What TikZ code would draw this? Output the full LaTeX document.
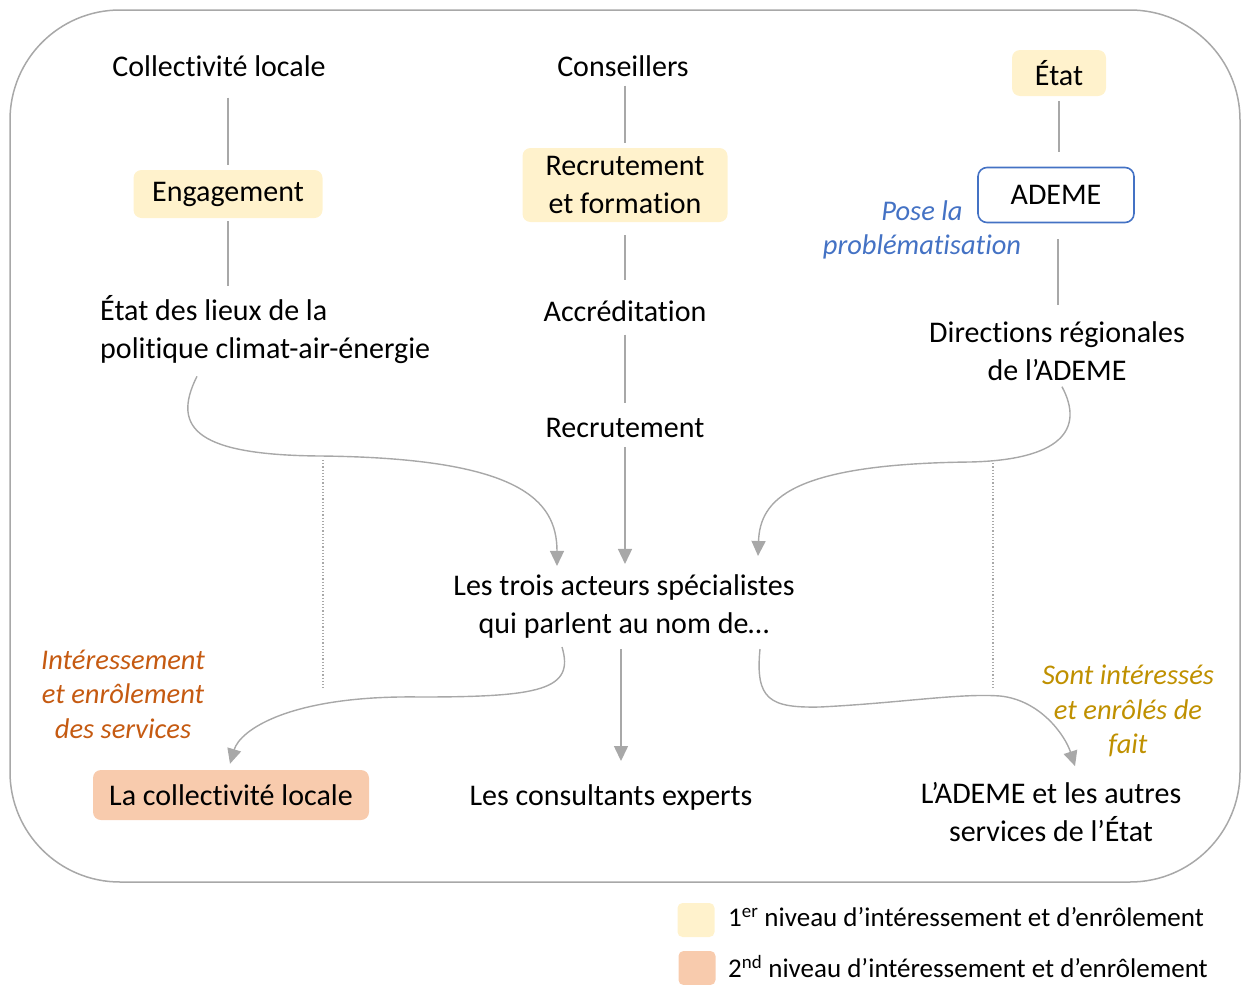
\documentclass[tikz,border=0pt]{standalone}
\usepackage{fontspec}
\setmainfont{Carlito}[RawFeature={-liga;-clig;-dlig;-calt;-rlig}]
\usetikzlibrary{arrows.meta,positioning,calc}
\definecolor{jaune}{RGB}{255,242,204}
\definecolor{saumon}{RGB}{248,203,173}
\definecolor{bleu}{RGB}{68,114,196}
\definecolor{rouille}{RGB}{197,90,17}
\definecolor{ocre}{RGB}{191,144,0}
\definecolor{trait}{RGB}{168,168,168}
\tikzset{
  txt/.style     ={align=center,inner sep=0pt,font=\fontsize{30}{38}\selectfont},
  boite/.style   ={txt,rounded corners=8pt,fill=jaune},
  note/.style    ={align=center,inner sep=0pt,font=\fontsize{28.5}{34.5}\selectfont\itshape},
  leg/.style     ={anchor=west,inner sep=0pt,font=\fontsize{27}{30}\selectfont},
  pastille/.style={rounded corners=5pt,minimum width=37pt,minimum height=34pt,inner sep=0pt},
  lien/.style    ={trait,line width=1.4pt},
  ar/.style      ={lien,-{Triangle[length=15pt,width=14pt]}},
  pointille/.style={trait,line width=1.2pt,dotted},
}

\begin{document}
\begin{tikzpicture}[x=1pt,y=-1pt]
  \useasboundingbox (0,0) rectangle (1242,985);
  \draw[trait,line width=1.5pt,rounded corners=110pt] (10,10) rectangle (1240,882);

  % colonne collectivite
  \node[txt] (coll) at (219,66) {Collectivité locale};
  \node[boite,minimum width=189pt,minimum height=48pt] (eng) at (228,194) {Engagement};
  \node[txt,align=left,anchor=west] (lieux) at (100,330) {État des lieux de la\\politique climat-air-énergie};

  % colonne conseillers
  \node[txt] (cons) at (623,66) {Conseillers};
  \node[boite,minimum width=205pt,minimum height=74pt] (recf) at (625,185) {Recrutement\\et formation};
  \node[txt] (accr) at (625,311) {Accréditation};
  \node[txt] (recr) at (625,428) {Recrutement};

  % colonne etat
  \node[boite,minimum width=94pt,minimum height=46pt] (etat) at (1059,73) {État};
  \node[txt,draw=bleu,line width=1.6pt,rounded corners=9pt,minimum width=156pt,minimum height=55pt] (ademe) at (1056,195) {ADEME};
  \node[note,text=bleu] (pose) at (922,230) {Pose la\\problématisation};
  \node[txt] (dir) at (1057,351) {Directions régionales\\de l’ADEME};

  % centre et bas
  \node[txt] (trois) at (624,606) {Les trois acteurs spécialistes\\qui parlent au nom de…};
  \node[boite,fill=saumon,minimum width=276pt,minimum height=50pt] (lacoll) at (231,795) {La collectivité locale};
  \node[txt] (consult) at (611,797) {Les consultants experts};
  \node[txt] (etatserv) at (1051,812) {L’ADEME et les autres\\services de l’État};
  \node[note,text=rouille] (inter) at (123,694) {Intéressement\\et enrôlement\\des services};
  \node[note,text=ocre] (sont) at (1128,711) {Sont intéressés\\et enrôlés de\\fait};

  % liens verticaux
  \draw[lien,shorten <=21pt,shorten >=5pt] (coll.south -| eng.north) -- (eng.north);
  \draw[lien,shorten <=3pt,shorten >=10pt] (eng.south) -- (eng.south |- lieux.north);
  \draw[lien,shorten <=9pt,shorten >=5pt] (cons.south -| recf.north) -- (recf.north);
  \draw[lien,shorten <=13pt,shorten >=20pt] (recf.south) -- (accr.north);
  \draw[lien,shorten <=13pt,shorten >=15pt] (accr.south) -- (recr.north);
  \draw[ar,shorten <=9pt,shorten >=10pt] (recr.south) -- (recr.south |- trois.north);
  \draw[lien,shorten <=5pt,shorten >=15pt] (etat.south) -- (etat.south |- ademe.north);
  \draw[lien,shorten <=16pt,shorten >=16pt] (ademe.south -| 1058,0) -- (dir.north -| 1058,0);
  \draw[ar,shorten <=11pt,shorten >=21pt] (trois.south -| consult.north) ++(10,0) -- ++(0,144);

  % courbes
  \draw[ar] ($(lieux.south west)+(97,12)$) .. controls (170,430) and (200,455) .. (320,456)
    .. controls (520,458) and (557,500) .. ($(trois.north)+(-67,-8)$);
  \draw[ar] ($(dir.south)+(5,6)$) .. controls (1085,430) and (1060,460) .. (970,462)
    .. controls (790,464) and (760,500) .. ($(trois.north)+(134,-18)$);
  \draw[ar] ($(trois.south)+(-62,9)$) .. controls (575,690) and (540,697) .. (420,697)
    .. controls (290,695) and (240,730) .. ($(lacoll.north)+(-1,-6)$);
  \draw[ar] ($(trois.south)+(136,11)$) .. controls (755,700) and (770,708) .. (820,707)
    .. controls (900,703) and (960,693) .. (1000,696)
    .. controls (1040,700) and (1065,735) .. ($(etatserv.north)+(24,-16)$);

  % separations
  \draw[pointille] (323,460) -- (323,688);
  \draw[pointille] (993,460) -- (993,688);

  % legende
  \node[pastille,fill=jaune] (lg1) at (696,920) {};
  \node[leg] (lt1) at (728,917) {1\textsuperscript{er} niveau d’intéressement et d’enrôlement};
  \node[pastille,fill=saumon] (lg2) at (697,968) {};
  \node[leg] (lt2) at (728,967) {2\textsuperscript{nd} niveau d’intéressement et d’enrôlement};
\end{tikzpicture}
\end{document}
